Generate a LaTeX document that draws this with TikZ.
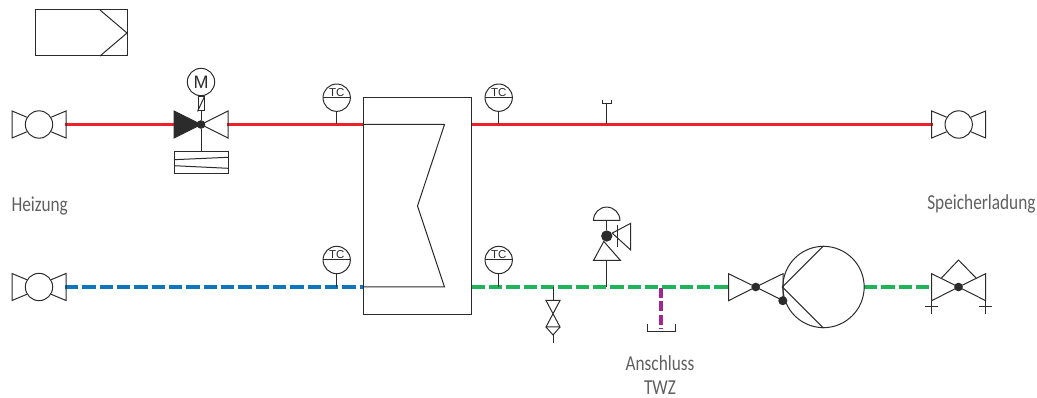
\documentclass[tikz,border=0pt]{standalone}
\usepackage{fontspec}
\setmainfont[FakeStretch=0.81]{Carlito}
\newfontfamily\tagfont{Liberation Sans}
\usetikzlibrary{positioning}
\definecolor{heat}{HTML}{ED2228}
\definecolor{cold}{HTML}{0F75BC}
\definecolor{load}{HTML}{21B35A}
\definecolor{twz}{HTML}{A0278F}
\definecolor{ink}{HTML}{2B2B2B}
\tikzset{
  ring/.style={draw=ink, circle, inner sep=0pt, minimum size=20.5pt},
  knob/.style={circle, fill=ink, inner sep=0pt, minimum size=6.5pt},
  tag/.style={inner sep=0pt, font=\tagfont\fontsize{8.6}{9}\selectfont, text=ink},
  caption/.style={inner sep=0pt, font=\fontsize{16}{18}\selectfont, text=ink!75},
  hotpipe/.style={draw=heat, line width=2.3pt},
  pipe/.style={line width=2.3pt, dash pattern=on 10pt off 3pt}
}
\begin{document}
\begin{tikzpicture}[x=.75pt, y=-.75pt, line width=.75pt, draw=ink]
\useasboundingbox (0,0) rectangle (1037,398);
% legend box
\draw (35,10) rectangle (127,56);
\draw (100,10) -- (127,33) -- (100,56);
% coordinates on the pipes
\coordinate (hxTL) at (363.5,124.5);
\coordinate (hxTR) at (471.5,124.5);
\coordinate (hxBL) at (363.5,287);
\coordinate (hxBR) at (471.5,287);
% pipes first, symbols on top
\coordinate (ballA) at (65,124.5);
\coordinate (ballB) at (933,124.5);
\coordinate (ballC) at (65,287);
\coordinate (mixL) at (175,124.5);
\coordinate (mixR) at (227,124.5);
\coordinate (stopL) at (729,287);
\coordinate (pumpR) at (864,287);
\coordinate (flapL) at (932,287);
\draw[hotpipe] (ballA) -- (mixL);
\draw[hotpipe] (mixR) -- (hxTL);
\draw[hotpipe] (hxTR) -- (ballB);
\draw[pipe, draw=cold] (ballC) -- (hxBL);
\draw[pipe, draw=load] (hxBR) -- (stopL);
\draw[pipe, draw=load] (pumpR) -- (flapL);
% ball valves
\foreach \i/\x/\y in {0/39/124.5, 1/958.7/124.5, 2/39/287}{
\node[ring] (ball\i) at (\x,\y) {};
\draw (ball\i.149) -- (\x-27,\y-13.5) -- (\x-27,\y+13.5) -- (ball\i.211);
\draw (ball\i.31) -- (\x+27,\y-13.5) -- (\x+27,\y+13.5) -- (ball\i.-31);}
% temperature sensors
\foreach \i/\x/\y in {0/336.7/97.7, 1/498.7/97.7, 2/336.7/260, 3/498.7/260}{
\node[ring] (tc\i) at (\x,\y) {};
\node[tag] (tclabel\i) at (\x,\y-5.5) {TC};
\draw (tc\i.west) -- (tc\i.east);
\draw (tc\i.south) -- (\x,\y+26.8);}
% heat exchanger
\node[draw=ink, minimum width=81pt, minimum height=162.7pt, inner sep=0pt] (hx) at (417.5,205.8) {};
\draw (hxTL) -- (444.5,124.5) -- (417.5,206) -- (444.5,287) -- (hxBL);
% motor valve
\node[knob] (mix) at (201,124.5) {};
\node[ring] (motor) at (201,82) {};
\node[tag, font=\tagfont\fontsize{13.5}{15}\selectfont] (motorlabel) at (motor) {M};
\node[draw=ink, inner sep=0pt, minimum width=4.5pt, minimum height=10.5pt] (drive) at (201,104) {};
\draw (drive.south west) -- (drive.north east);
\draw[fill=ink] (mix.center) -- (174,111) -- (174,138) -- cycle;
\draw (mix.center) -- (228,111) -- (228,138) -- cycle;
\node[draw=ink, inner sep=0pt, minimum width=40.5pt, minimum height=16.5pt] (spring) at (201,163) {};
\draw (drive.south) -- (mix);
\draw (mix) -- (spring.north);
\draw (174,159.7) -- (228,157.3) (174,165.7) -- (228,168.3);
% vent on the flow
\coordinate (vent) at (606.7,104);
\draw (vent) -- (606.7,124.5);
\draw (602.3,100.5) -- (602.3,104) -- (611,104) -- (611,100.5);
% safety valve
\node[knob, minimum size=8.5pt] (safe) at (606.7,236) {};
\coordinate (safeB) at (606.7,287);
\coordinate (dome) at (606.7,220.3);
\draw (593.5,220.3) arc (180:360:13.2) -- cycle;
\draw (dome) -- (safe);
\draw (safe) -- (593.5,260.5) -- (620.5,260.5) -- cycle;
\draw (safe) -- (630.7,223.3) -- (630.7,250) -- cycle;
\draw (617.7,225) -- (617.7,247);
\draw (606.7,260.5) -- (safeB);
% drain cock
\coordinate (drain) at (553,287);
\draw (drain) -- (553,300.5);
\draw (546,300.5) -- (560,300.5) -- (546,327) -- (560,327) -- cycle;
\draw (546,327) -- (553,335) -- (560,327);
\draw (553,335) -- (553,343);
% circulation connection
\coordinate (twzT) at (661,288);
\coordinate (twzB) at (661,329);
\draw[line width=2.3pt, draw=twz, dash pattern=on 7.5pt off 2.5pt] (twzT) -- (twzB);
\draw (647.5,324) -- (647.5,331.7) -- (675,331.7) -- (675,324);
% stop valve and pump
\node[knob] (stop) at (755.7,287) {};
\draw (stop.center) -- (728.5,273.7) -- (728.5,300.7) -- cycle;
\draw (stop.center) -- (783,273.7) -- (783,300.7) -- cycle;
\node[ring, minimum size=61pt] (pump) at (823.5,287) {};
\node[knob, minimum size=6.8pt] (pumpdot) at (782.8,300.7) {};
\draw (pump.north) -- (pump.west) -- (pump.south);
% check valve
\node[knob] (flap) at (958.5,287) {};
\draw (flap.center) -- (931.7,273.7) -- (931.7,300.7) -- cycle;
\draw (flap.center) -- (985.7,273.7) -- (985.7,300.7) -- cycle;
\draw (941,278.5) -- (958.5,260) -- (976.5,278.5);
\foreach \x in {931.7, 985.7}{
\draw (\x,300.7) -- (\x,314.3);
\draw (\x-6.7,307) -- (\x+6.7,307);}
% captions
\node[caption, anchor=west] (heating) at (11,206) {Heizung};
\node[caption, anchor=east] (charging) at (1036,204) {Speicherladung};
\node[caption] (conn) at (660,363) {Anschluss};
\node[caption] (connb) at (660,388) {TWZ};
\end{tikzpicture}
\end{document}
